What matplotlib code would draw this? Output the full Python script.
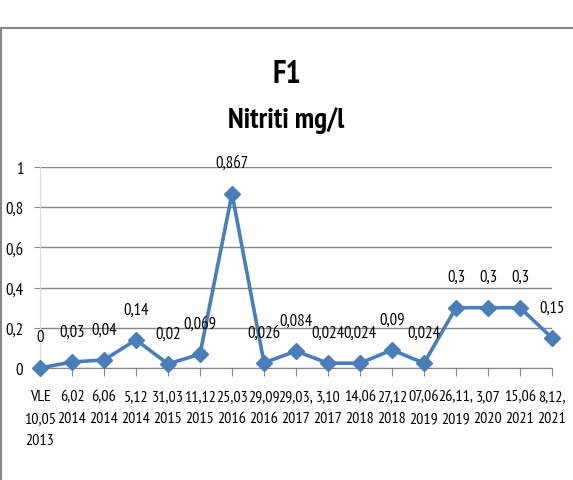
import numpy as np
import matplotlib.pyplot as plt
from matplotlib.lines import Line2D

dates = ['VLE\n10,05\n2013', '6,02\n2014', '6,06\n2014', '5,12\n2014', '31,03\n2015',
         '11,12\n2015', '25,03\n2016', '29,09\n2016', '29,03,\n2017', '3,10\n2017',
         '14,06\n2018', '27,12\n2018', '07,06\n2019', '26,11,\n2019', '3,07\n2020',
         '15,06\n2021', '8,12,\n2021']
nitriti = [0, 0.03, 0.04, 0.14, 0.02, 0.069, 0.867, 0.026, 0.084, 0.024, 0.024,
           0.09, 0.024, 0.3, 0.3, 0.3, 0.15]
labels = ['0', '0,03', '0,04', '0,14', '0,02', '0,069', '0,867', '0,026', '0,084',
          '0,024', '0,024', '0,09', '0,024', '0,3', '0,3', '0,3', '0,15']

plt.rcParams['font.family'] = ['PT Sans Narrow', 'DejaVu Sans']

fig = plt.figure(figsize=(5.73, 4.81), dpi=100)

# outer chart border (top and left visible)
fig.add_artist(Line2D([0.002, 1.0], [1 - 29 / 481, 1 - 29 / 481], color='#868686', lw=1.5))
fig.add_artist(Line2D([0.002, 0.002], [0, 1 - 29 / 481], color='#868686', lw=1.5))

fig.text(0.5, 1 - 75 / 481, 'F1', ha='center', va='center', fontsize=23, fontweight='bold')
fig.text(0.5, 1 - 121 / 481, 'Nitriti mg/l', ha='center', va='center', fontsize=21, fontweight='bold')

ax = fig.add_axes([40 / 573, 1 - 369 / 481, (552 - 40) / 573, (369 - 168) / 481])
x = np.arange(len(nitriti))
ax.plot(x, nitriti, '-D', color='#4A7EBB', lw=2.6, markersize=8.5, clip_on=False, zorder=3)

for xi, v, s in zip(x, nitriti, labels):
    ax.annotate(s, (xi, v), xytext=(0, 22), textcoords='offset points',
                ha='center', va='center', fontsize=12, annotation_clip=False)

ax.set_xlim(0, len(nitriti) - 1)
ax.set_ylim(0, 1)
ax.set_yticks([0, 0.2, 0.4, 0.6, 0.8, 1])
ax.set_yticklabels(['0', '0,2', '0,4', '0,6', '0,8', '1'])
ax.set_xticks(x)
ax.set_xticklabels(dates, linespacing=1.75, va='top')
ax.tick_params(axis='y', length=4, color='#868686', pad=8, labelsize=12)
ax.tick_params(axis='x', length=6, color='#868686', pad=9, labelsize=11.5)
ax.grid(axis='y', color='#868686', lw=1)
ax.set_axisbelow(True)
for sp in ['top', 'right']:
    ax.spines[sp].set_visible(False)
ax.spines['bottom'].set_color('#868686')
ax.spines['left'].set_color('#d9d9d9')

plt.savefig('out.png', dpi=100)
